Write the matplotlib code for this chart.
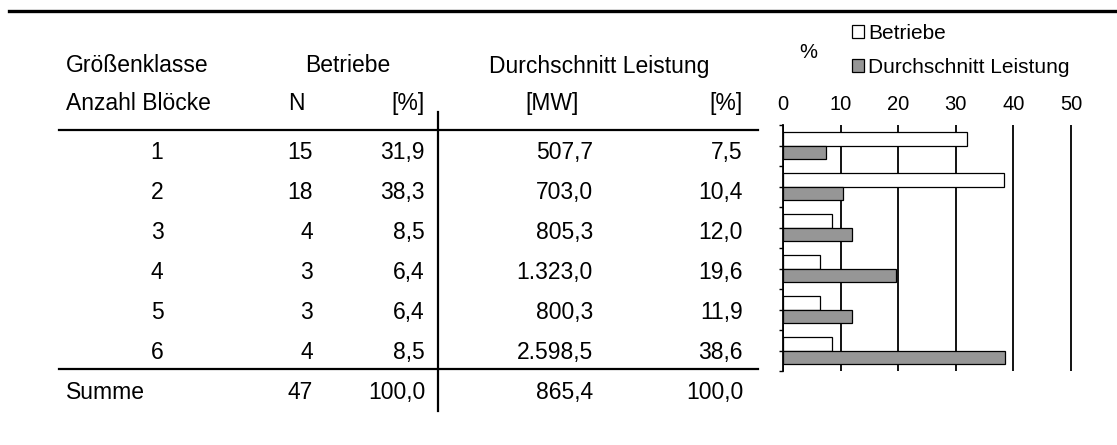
import numpy as np
import matplotlib
matplotlib.use("Agg")
import matplotlib.pyplot as plt
from matplotlib.lines import Line2D

plt.rcParams['font.family'] = ['Liberation Sans', 'DejaVu Sans']

# table / chart data
klassen = ["1", "2", "3", "4", "5", "6"]
n_betriebe = [15, 18, 4, 3, 3, 4]
pct_betriebe = [31.9, 38.3, 8.5, 6.4, 6.4, 8.5]
leistung_mw = [507.7, 703.0, 805.3, 1323.0, 800.3, 2598.5]
pct_leistung = [7.5, 10.4, 12.0, 19.6, 11.9, 38.6]
summe = ["Summe", 47, 100.0, 865.4, 100.0]
x_ticks = [0, 10, 20, 30, 40, 50]

W, H = 1117, 445
fig = plt.figure(figsize=(W / 100, H / 100), dpi=100)


def fx(px):
    return px / W


def fy(py):
    return 1 - py / H


def de(v):
    # german number format 1.234,5
    s = f"{v:,.1f}"
    return s.replace(",", "X").replace(".", ",").replace("X", ".")


fs = 16.5
def txt(x, y, s, ha="left", size=fs):
    fig.text(fx(x), fy(y), s, ha=ha, va="baseline", fontsize=size)


# rules
def hline(y, x0, x1, lw):
    fig.add_artist(Line2D([fx(x0), fx(x1)], [fy(y), fy(y)], color="black", lw=lw,
                          transform=fig.transFigure))


hline(11, 9, 1117, 2.4)
hline(129.5, 59, 758, 1.6)
hline(369, 59, 758, 1.6)
fig.add_artist(Line2D([fx(438), fx(438)], [fy(112), fy(411)], color="black", lw=1.6,
                      transform=fig.transFigure))

# header
txt(66, 72, "Größenklasse")
txt(348, 72, "Betriebe", ha="center")
txt(599, 73, "Durchschnitt Leistung", ha="center")
txt(66, 110, "Anzahl Blöcke")
txt(296, 110, "N", ha="center")
txt(425, 110, "[%]", ha="right")
txt(552, 110, "[MW]", ha="center")
txt(743, 110, "[%]", ha="right")

# rows
for i in range(len(klassen)):
    yb = 159 + 40 * i
    txt(157, yb, klassen[i], ha="center")
    txt(313, yb, str(n_betriebe[i]), ha="right")
    txt(425, yb, de(pct_betriebe[i]), ha="right")
    txt(593, yb, de(leistung_mw[i]), ha="right")
    txt(743, yb, de(pct_leistung[i]), ha="right")

txt(66, 399, summe[0])
txt(313, 399, str(summe[1]), ha="right")
txt(425, 399, de(summe[2]), ha="right")
txt(593, 399, de(summe[3]), ha="right")
txt(743, 399, de(summe[4]), ha="right")

# bar chart
px_per_unit = 5.76
xmax = 52
ax = fig.add_axes([fx(783), fy(371), fx(xmax * px_per_unit), (371 - 125) / H])
y = np.arange(len(klassen))
bh = 0.33
b1 = ax.barh(y - bh / 2, pct_betriebe, height=bh, color="white", edgecolor="black",
             lw=0.9, label="Betriebe", zorder=3)
b2 = ax.barh(y + bh / 2, pct_leistung, height=bh, color="#969696", edgecolor="black",
             lw=0.9, label="Durchschnitt Leistung", zorder=3)
ax.set_xlim(0, xmax)
ax.set_ylim(len(klassen) - 0.5, -0.5)
ax.set_xticks(x_ticks)
ax.xaxis.tick_top()
ax.tick_params(axis="x", length=0, pad=8, labelsize=14.5)
ax.set_yticks(np.arange(-0.5, len(klassen), 0.5))
ax.tick_params(axis="y", direction="out", length=3, width=1.0, labelleft=False)
ax.grid(axis="x", color="black", lw=1.3, zorder=1)
for s in ["top", "right", "bottom"]:
    ax.spines[s].set_visible(False)
ax.spines["left"].set_linewidth(1.3)
ax.spines["left"].set_zorder(4)

fig.text(fx(808), fy(52), "%", ha="center", va="center", fontsize=14.5)
fig.legend(handles=[b1, b2], loc="upper left",
           bbox_to_anchor=(fx(852), fy(24)), bbox_transform=fig.transFigure,
           frameon=False, fontsize=15, handlelength=0.58, handleheight=0.58,
           handletextpad=0.2, borderpad=0, borderaxespad=0, labelspacing=0.7)

fig.savefig("out.png", dpi=100)
